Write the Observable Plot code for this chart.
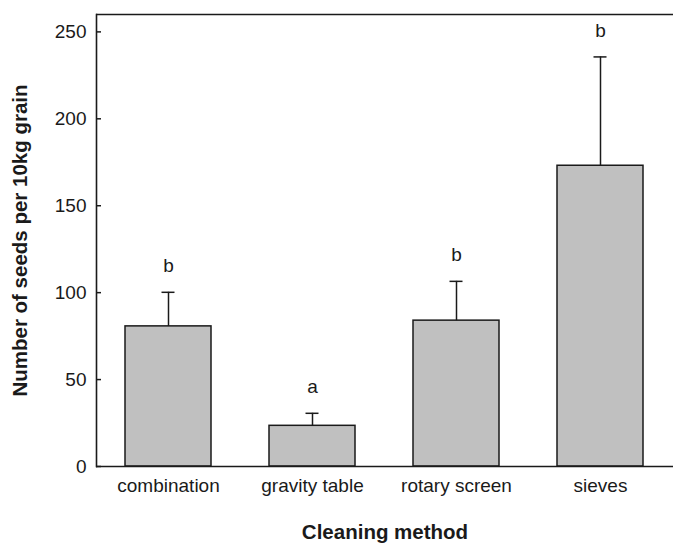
<!DOCTYPE html>
<html>
<head>
<meta charset="utf-8">
<script src="https://cdn.jsdelivr.net/npm/d3@7"></script>
<script src="https://cdn.jsdelivr.net/npm/@observablehq/plot@0.6"></script>
<style>
  html, body { margin: 0; padding: 0; background: #fff; }
  #chart svg { display: block; }
</style>
</head>
<body>
<div id="chart"></div>
<script>
const methods = ["combination", "gravity table", "rotary screen", "sieves"];
const means = [80.6, 23.4, 83.9, 173];
const upper = [100.2, 30.6, 106.5, 235.6];
const letters = ["b", "a", "b", "b"];
const yTicks = [0, 50, 100, 150, 200, 250];

const data = methods.map((m, i) => ({method: m, mean: means[i], hi: upper[i], letter: letters[i]}));

const ink = "#1a1a1a";
const chart = Plot.plot({
  width: 673,
  height: 544,
  marginLeft: 96,
  marginRight: 0,
  marginTop: 14,
  marginBottom: 78,
  style: {fontFamily: "'Liberation Sans', Arial, sans-serif", fontSize: "19px", color: ink, background: "#fff"},
  x: {domain: methods, padding: 0.4, paddingOuter: 0.19, label: null},
  y: {domain: [0, 260], label: null},
  marks: [
    Plot.barY(data, {x: "method", y: "mean", fill: "#c0c0c0", stroke: ink, strokeWidth: 1.5}),
    Plot.ruleX(data, {x: "method", y1: "mean", y2: "hi", stroke: ink, strokeWidth: 1.5}),
    Plot.tickY(data, {x: "method", y: "hi", stroke: ink, strokeWidth: 1.5, inset: 36.5}),
    Plot.text(data, {x: "method", y: "hi", text: "letter", dy: -20, lineAnchor: "bottom", fontSize: 19, fill: ink}),
    Plot.ruleY([0, 260], {stroke: ink, strokeWidth: 1.6}),
    Plot.frame({anchor: "left", stroke: ink, strokeWidth: 1.6}),
    Plot.axisY({ticks: yTicks, tickSize: 5, dx: 5, tickPadding: 10, stroke: ink, strokeWidth: 1.5, fontSize: 19,
      label: "Number of seeds per 10kg grain", labelAnchor: "center", labelOffset: 84}),
    Plot.axisX({tickSize: 0, tickPadding: 12, fontSize: 19,
      label: "Cleaning method", labelAnchor: "center", labelOffset: 72})
  ]
});
// bold axis titles, no arrow
chart.querySelectorAll("[aria-label='y-axis label'] text, [aria-label='x-axis label'] text").forEach(t => {
  t.setAttribute("font-weight", "bold");
  t.setAttribute("font-size", "20.5");
  t.textContent = t.textContent.replace(/\s*[↑↓→←]\s*/g, "").trim();
});
document.getElementById("chart").appendChild(chart);
</script>
</body>
</html>
